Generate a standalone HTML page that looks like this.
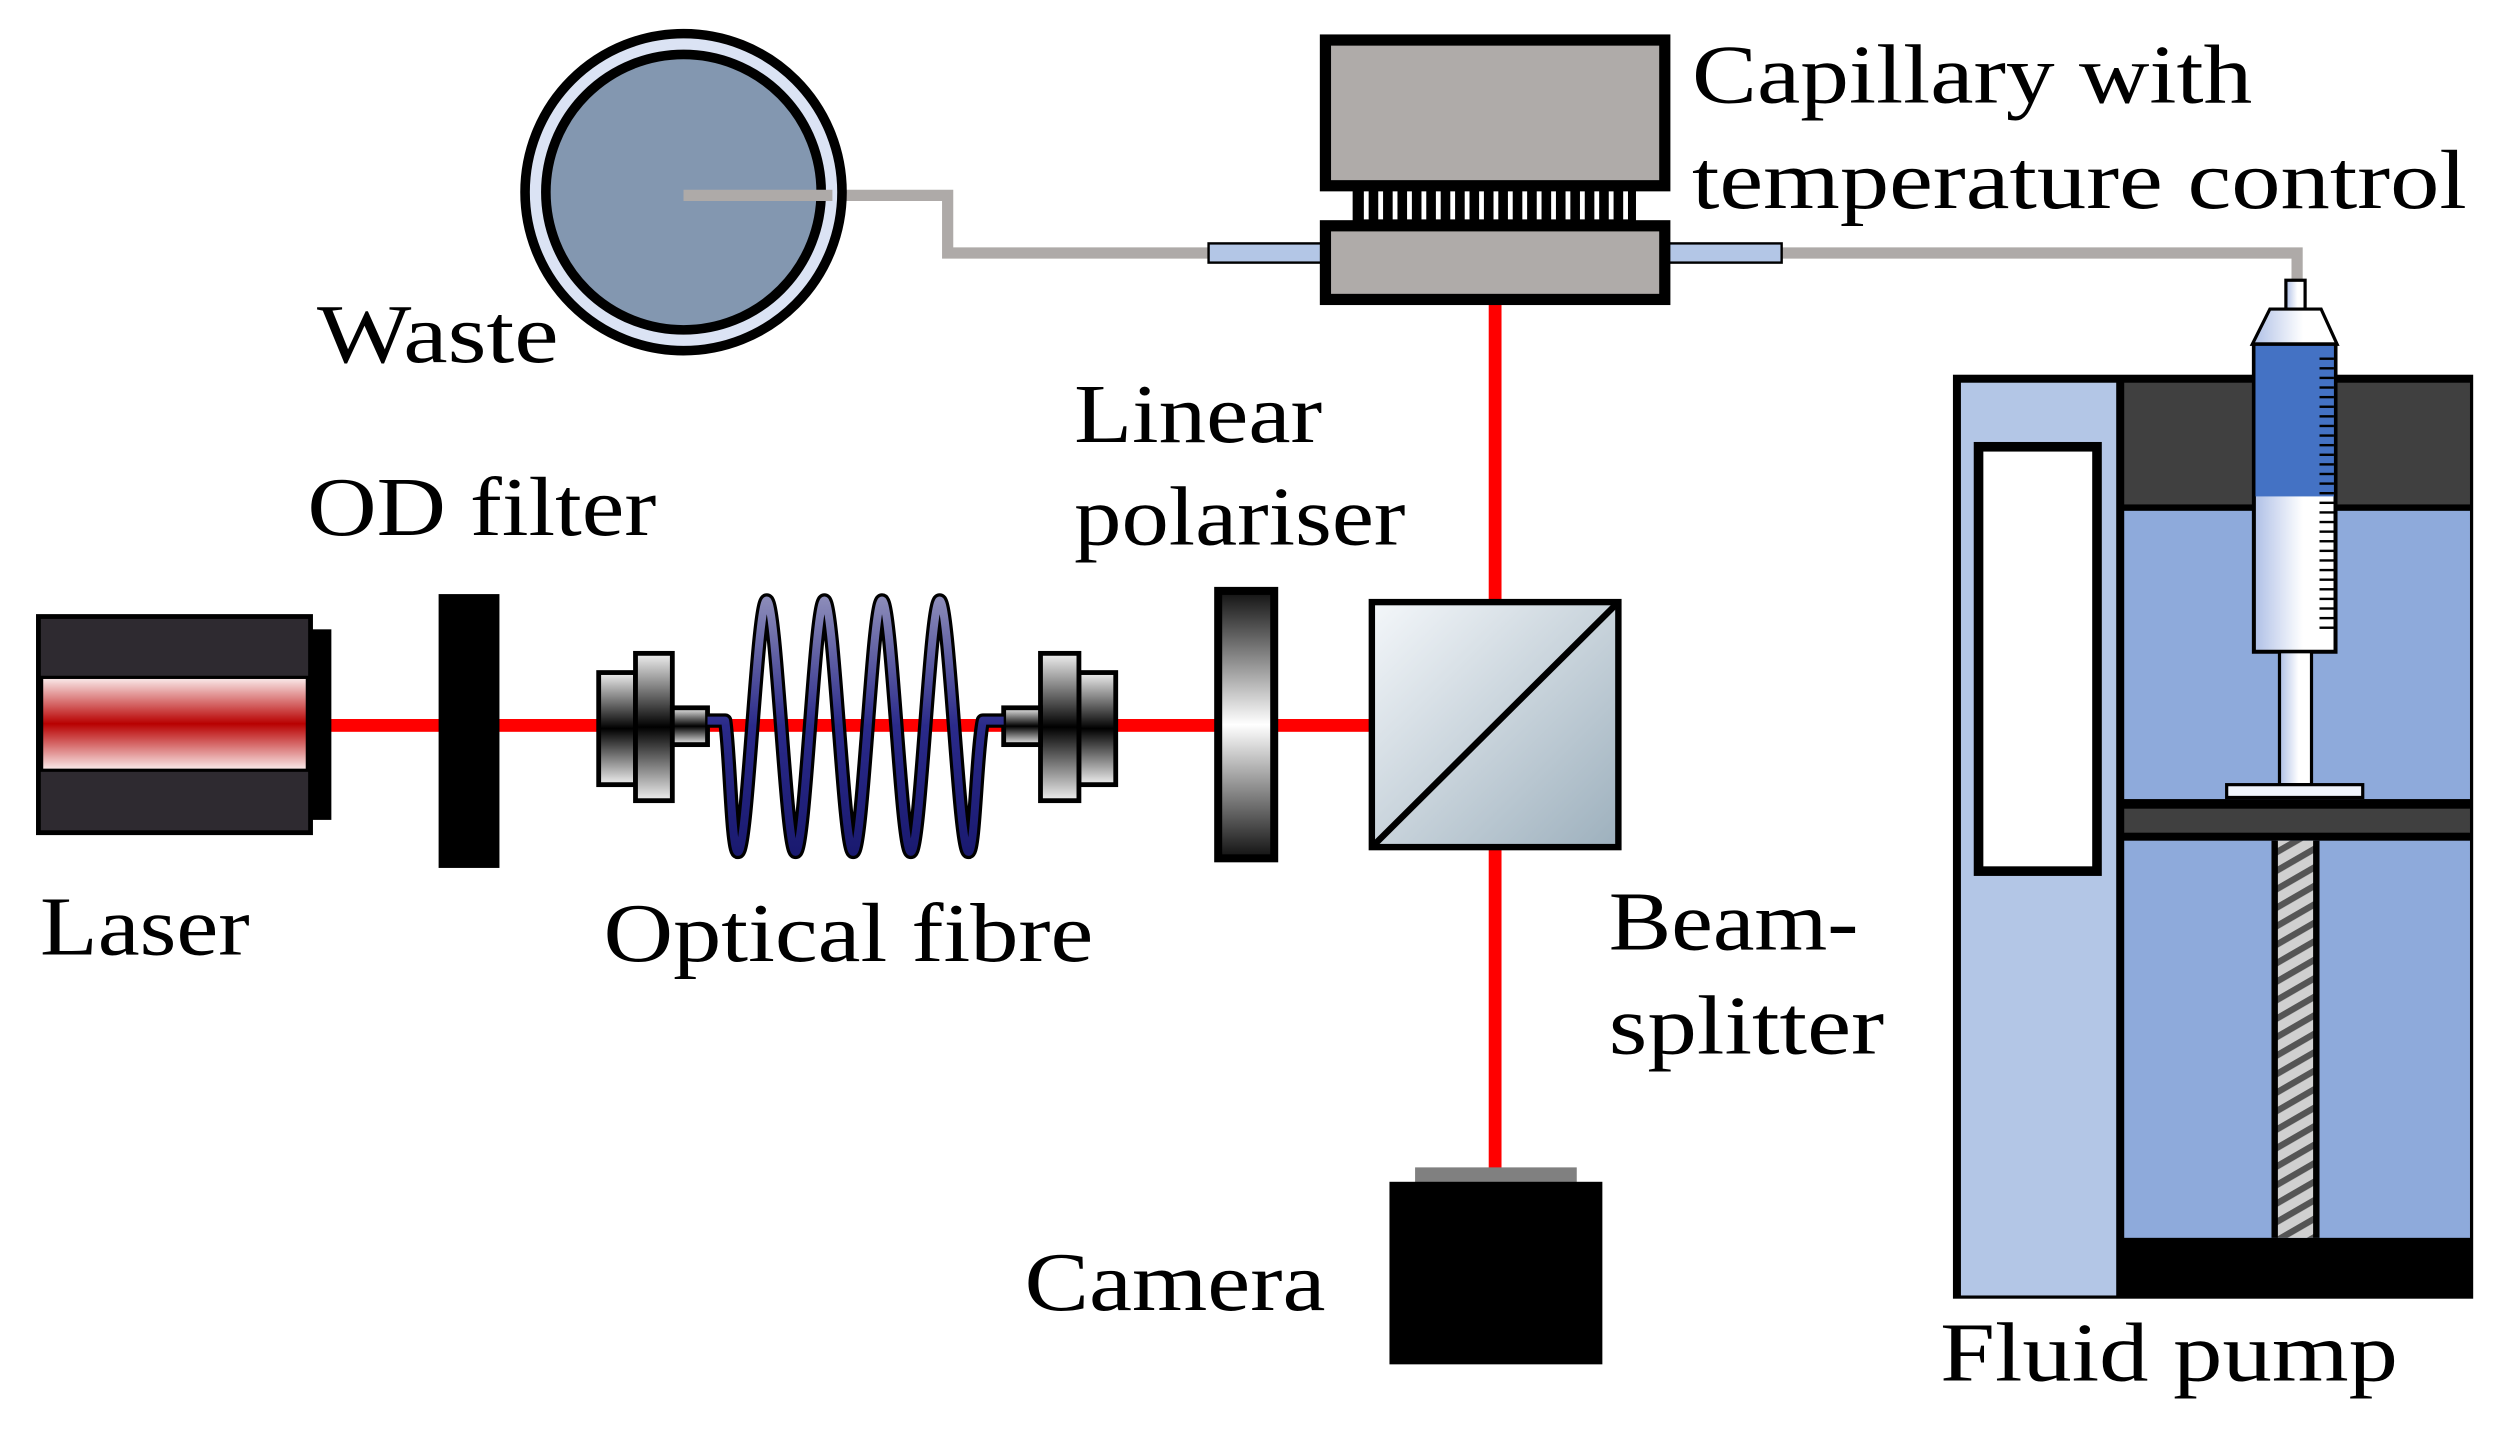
<!DOCTYPE html>
<html><head><meta charset="utf-8"><style>
html,body{margin:0;padding:0;background:#fff;}
svg{display:block;}
text{font-family:"Liberation Serif",serif;font-size:52px;fill:#000;}
</style></head><body>
<svg width="2510" height="1430" viewBox="0 0 1568 893" preserveAspectRatio="none" xmlns="http://www.w3.org/2000/svg">
<defs>
<linearGradient id="laser" x1="0" y1="0" x2="0" y2="1">
<stop offset="0" stop-color="#fbeeee"/><stop offset="0.5" stop-color="#b80000"/><stop offset="1" stop-color="#fbeeee"/></linearGradient>
<linearGradient id="conn" x1="0" y1="0" x2="0" y2="1">
<stop offset="0" stop-color="#f0f0f0"/><stop offset="0.5" stop-color="#000"/><stop offset="1" stop-color="#f0f0f0"/></linearGradient>
<linearGradient id="pol" x1="0" y1="0" x2="0" y2="1">
<stop offset="0" stop-color="#111"/><stop offset="0.5" stop-color="#fff"/><stop offset="1" stop-color="#111"/></linearGradient>
<linearGradient id="bs" x1="0" y1="0" x2="1" y2="1">
<stop offset="0" stop-color="#f4f7fa"/><stop offset="1" stop-color="#9db0bd"/></linearGradient>
<linearGradient id="fib" x1="0" y1="0" x2="0" y2="1">
<stop offset="0" stop-color="#8a8ab8"/><stop offset="0.5" stop-color="#2a2a8a"/><stop offset="1" stop-color="#1a1a70"/></linearGradient>
<linearGradient id="syr" x1="0" y1="0" x2="1" y2="0">
<stop offset="0" stop-color="#aebfe6"/><stop offset="0.6" stop-color="#fff"/><stop offset="1" stop-color="#fff"/></linearGradient>
<pattern id="hatch" width="10" height="10" patternUnits="userSpaceOnUse" patternTransform="rotate(-30)">
<rect width="10" height="10" fill="#d0d0d0"/><rect width="10" height="4" fill="#555"/></pattern>
</defs>

<rect x="205" y="449" width="652" height="8" fill="#ff0000"/>
<rect x="930" y="188" width="8" height="190" fill="#ff0000"/>
<rect x="930" y="528" width="8" height="204" fill="#ff0000"/>

<rect x="24" y="385" width="170" height="135" fill="#2e2a30" stroke="#000" stroke-width="3"/>
<rect x="26" y="423" width="166" height="58" fill="url(#laser)" stroke="#000" stroke-width="2"/>
<rect x="194" y="393" width="13" height="119" fill="#000"/>

<rect x="274" y="371" width="38" height="171" fill="#000"/>

<rect x="374" y="420" width="23" height="70" fill="url(#conn)" stroke="#000" stroke-width="3"/>
<rect x="397" y="408" width="23" height="92" fill="url(#conn)" stroke="#000" stroke-width="3"/>
<rect x="420" y="442" width="22" height="23" fill="url(#conn)" stroke="#000" stroke-width="3"/>
<rect x="674" y="420" width="23" height="70" fill="url(#conn)" stroke="#000" stroke-width="3"/>
<rect x="650" y="408" width="24" height="92" fill="url(#conn)" stroke="#000" stroke-width="3"/>
<rect x="627" y="442" width="23" height="23" fill="url(#conn)" stroke="#000" stroke-width="3"/>

<g fill="none" stroke-linejoin="round">
<path id="coil" d="M442,450 L453,450 C456,470 457,532 461,532 C467,532 473,375 479,375 C485,375 491,532 497,532 C503,532 509,375 515,375 C521,375 527,532 533,532 C539,532 545,375 551,375 C557,375 563,532 569,532 C575,532 581,375 587,375 C593,375 599,532 605,532 C609,532 610,470 614,450 L627,450" stroke="#000" stroke-width="9"/>
<path d="M442,450 L453,450 C456,470 457,532 461,532 C467,532 473,375 479,375 C485,375 491,532 497,532 C503,532 509,375 515,375 C521,375 527,532 533,532 C539,532 545,375 551,375 C557,375 563,532 569,532 C575,532 581,375 587,375 C593,375 599,532 605,532 C609,532 610,470 614,450 L627,450" stroke="url(#fib)" stroke-width="5"/>
</g>

<rect x="761" y="369" width="35" height="167" fill="url(#pol)" stroke="#000" stroke-width="5"/>

<rect x="857" y="376" width="154" height="153" fill="url(#bs)" stroke="#000" stroke-width="4"/>
<line x1="857" y1="529" x2="1011" y2="376" stroke="#000" stroke-width="4"/>

<rect x="884" y="729" width="101" height="10" fill="#808080"/>
<rect x="868" y="738" width="133" height="114" fill="#000"/>

<polyline points="427,122 592,122 592,158 760,158" fill="none" stroke="#aeaaa8" stroke-width="7"/>
<polyline points="1108,158 1435,158 1435,178" fill="none" stroke="#aeaaa8" stroke-width="7"/>

<circle cx="427" cy="120" r="99" fill="#dbe3f4" stroke="#000" stroke-width="6"/>
<circle cx="427" cy="120" r="86" fill="#8397b0" stroke="#000" stroke-width="6"/>
<line x1="427" y1="122" x2="520" y2="122" stroke="#aeaaa8" stroke-width="7"/>

<rect x="755" y="152" width="72" height="12" fill="#b3c6e6" stroke="#000" stroke-width="1.5"/>
<rect x="1041" y="152" width="72" height="12" fill="#b3c6e6" stroke="#000" stroke-width="1.5"/>
<rect x="845" y="116" width="177" height="24" fill="#000"/>
<g fill="#fff">
<rect x="852" y="119" width="3" height="18"/><rect x="861" y="119" width="3" height="18"/><rect x="870" y="119" width="3" height="18"/><rect x="879" y="119" width="3" height="18"/><rect x="888" y="119" width="3" height="18"/><rect x="897" y="119" width="3" height="18"/><rect x="906" y="119" width="3" height="18"/><rect x="915" y="119" width="3" height="18"/><rect x="924" y="119" width="3" height="18"/><rect x="933" y="119" width="3" height="18"/><rect x="942" y="119" width="3" height="18"/><rect x="951" y="119" width="3" height="18"/><rect x="960" y="119" width="3" height="18"/><rect x="969" y="119" width="3" height="18"/><rect x="978" y="119" width="3" height="18"/><rect x="987" y="119" width="3" height="18"/><rect x="996" y="119" width="3" height="18"/><rect x="1005" y="119" width="3" height="18"/><rect x="1014" y="119" width="3" height="18"/>
</g>
<rect x="828" y="25" width="212" height="91" fill="#afaba9" stroke="#000" stroke-width="7"/>
<rect x="828" y="141" width="212" height="46" fill="#afaba9" stroke="#000" stroke-width="7"/>

<rect x="1220" y="234" width="325" height="577" fill="#000"/>
<rect x="1225" y="239" width="97" height="570" fill="#b3c6e6"/>
<rect x="1236" y="279" width="74" height="265" fill="#fff" stroke="#000" stroke-width="6"/>
<rect x="1327" y="239" width="216" height="76" fill="#404040"/>
<rect x="1327" y="319" width="216" height="180" fill="#8eaadb"/>
<rect x="1327" y="505" width="216" height="15" fill="#404040"/>
<rect x="1327" y="525" width="216" height="248" fill="#8eaadb"/>
<rect x="1422" y="525" width="24" height="248" fill="url(#hatch)"/>
<rect x="1419" y="525" width="4" height="248" fill="#000"/>
<rect x="1445" y="525" width="4" height="248" fill="#000"/>

<rect x="1428" y="175" width="12" height="19" fill="url(#syr)" stroke="#000" stroke-width="2"/>
<polygon points="1418,193 1450,193 1460,215 1407,215" fill="url(#syr)" stroke="#000" stroke-width="2"/>
<rect x="1408" y="215" width="51" height="192" fill="url(#syr)" stroke="#000" stroke-width="2.5"/>
<rect x="1409" y="216" width="49" height="94" fill="#4472c4"/>
<g stroke="#000" stroke-width="1.5">
<line x1="1449" y1="224" x2="1458" y2="224"/><line x1="1449" y1="230" x2="1458" y2="230"/><line x1="1449" y1="236" x2="1458" y2="236"/><line x1="1449" y1="242" x2="1458" y2="242"/><line x1="1449" y1="248" x2="1458" y2="248"/><line x1="1449" y1="254" x2="1458" y2="254"/><line x1="1449" y1="260" x2="1458" y2="260"/><line x1="1449" y1="266" x2="1458" y2="266"/><line x1="1449" y1="272" x2="1458" y2="272"/><line x1="1449" y1="278" x2="1458" y2="278"/><line x1="1449" y1="284" x2="1458" y2="284"/><line x1="1449" y1="290" x2="1458" y2="290"/><line x1="1449" y1="296" x2="1458" y2="296"/><line x1="1449" y1="302" x2="1458" y2="302"/><line x1="1449" y1="308" x2="1458" y2="308"/><line x1="1449" y1="314" x2="1458" y2="314"/><line x1="1449" y1="320" x2="1458" y2="320"/><line x1="1449" y1="326" x2="1458" y2="326"/><line x1="1449" y1="332" x2="1458" y2="332"/><line x1="1449" y1="338" x2="1458" y2="338"/><line x1="1449" y1="344" x2="1458" y2="344"/><line x1="1449" y1="350" x2="1458" y2="350"/><line x1="1449" y1="356" x2="1458" y2="356"/><line x1="1449" y1="362" x2="1458" y2="362"/><line x1="1449" y1="368" x2="1458" y2="368"/><line x1="1449" y1="374" x2="1458" y2="374"/><line x1="1449" y1="380" x2="1458" y2="380"/><line x1="1449" y1="386" x2="1458" y2="386"/><line x1="1449" y1="392" x2="1458" y2="392"/>
</g>
<rect x="1424" y="407" width="20" height="83" fill="url(#syr)" stroke="#000" stroke-width="2"/>
<rect x="1391" y="490" width="85" height="8" fill="#f0f4fc" stroke="#000" stroke-width="2"/>

<text x="1057" y="64" textLength="350" lengthAdjust="spacingAndGlyphs">Capillary with</text>
<text x="1057" y="130" textLength="484" lengthAdjust="spacingAndGlyphs">temperature control</text>
<text x="198" y="226" textLength="151" lengthAdjust="spacingAndGlyphs">Waste</text>
<text x="192" y="334" textLength="218" lengthAdjust="spacingAndGlyphs">OD filter</text>
<text x="671" y="276" textLength="155" lengthAdjust="spacingAndGlyphs">Linear</text>
<text x="671" y="340" textLength="207" lengthAdjust="spacingAndGlyphs">polariser</text>
<text x="25" y="596" textLength="131" lengthAdjust="spacingAndGlyphs">Laser</text>
<text x="377" y="600" textLength="306" lengthAdjust="spacingAndGlyphs">Optical fibre</text>
<text x="1005" y="593" textLength="156" lengthAdjust="spacingAndGlyphs">Beam-</text>
<text x="1005" y="658" textLength="172" lengthAdjust="spacingAndGlyphs">splitter</text>
<text x="640" y="818" textLength="188" lengthAdjust="spacingAndGlyphs">Camera</text>
<text x="1212" y="862" textLength="286" lengthAdjust="spacingAndGlyphs">Fluid pump</text>
</svg>
</body></html>
